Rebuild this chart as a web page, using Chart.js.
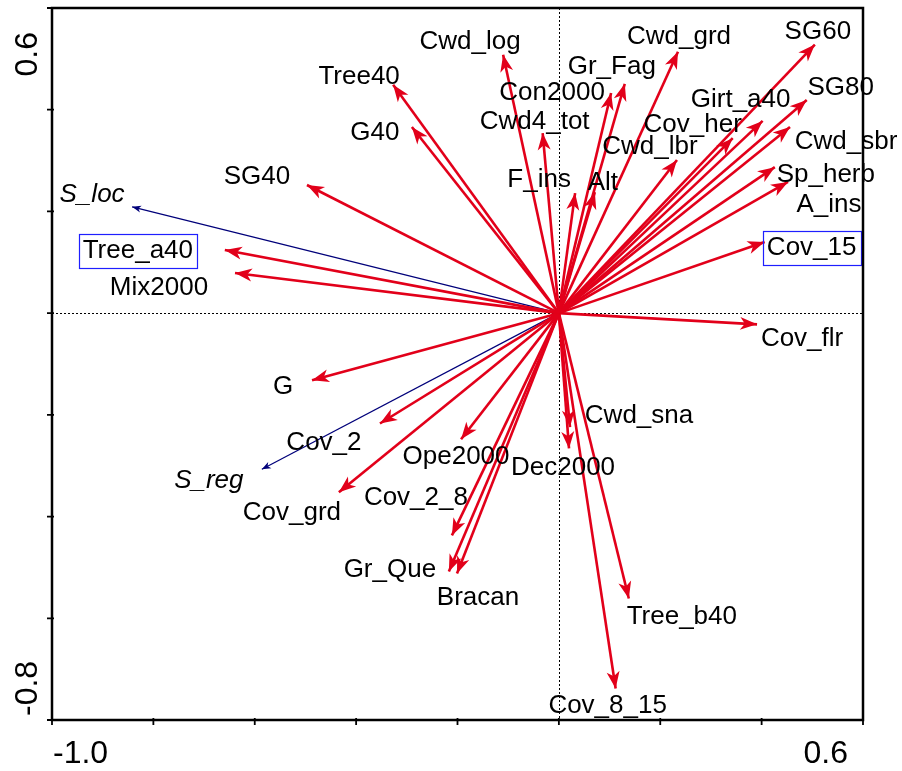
<!DOCTYPE html>
<html>
<head>
<meta charset="utf-8">
<title>Ordination biplot</title>
<script src="https://cdn.jsdelivr.net/npm/chart.js@4.4.1/dist/chart.umd.min.js"></script>
<style>
  html, body { margin: 0; padding: 0; background: #fff; }
  canvas { display: block; }
</style>
</head>
<body>
<canvas id="biplot" width="902" height="771"></canvas>
<script>
// environmental variables (red arrows): scores on axis 1 and axis 2
const variables = [
  "Cwd_log", "Tree40", "G40", "Cwd4_tot", "Con2000", "Gr_Fag", "Cwd_grd",
  "Cwd_lbr", "Cov_her", "Girt_a40", "SG60", "SG80", "Cwd_sbr", "Sp_herb",
  "A_ins", "Cov_15", "F_ins", "Alt", "SG40", "Tree_a40", "Mix2000", "Cov_flr",
  "G", "Cov_2", "Cov_grd", "Ope2000", "Cov_2_8", "Gr_Que", "Bracan",
  "Cwd_sna", "Dec2000", "Tree_b40", "Cov_8_15"
];
const axis1 = [
  -0.110, -0.327, -0.290, -0.032, 0.103, 0.130, 0.235,
  0.233, 0.343, 0.402, 0.505, 0.489, 0.456, 0.426,
  0.452, 0.406, 0.032, 0.071, -0.497, -0.659, -0.639, 0.391,
  -0.487, -0.353, -0.434, -0.193, -0.211, -0.217, -0.201,
  0.022, 0.020, 0.138, 0.112
];
const axis2 = [
  0.508, 0.449, 0.366, 0.354, 0.433, 0.451, 0.514,
  0.301, 0.344, 0.378, 0.528, 0.419, 0.366, 0.287,
  0.258, 0.140, 0.236, 0.238, 0.252, 0.124, 0.079, -0.022,
  -0.132, -0.217, -0.352, -0.248, -0.437, -0.508, -0.512,
  -0.224, -0.266, -0.561, -0.738
];

// response variables (thin blue arrows)
const responses = ["S_loc", "S_reg"];
const respAxis1 = [-0.842, -0.586];
const respAxis2 = [0.209, -0.307];

// axis ranges and tick values
const xRange = [-1.0, 0.6];
const yRange = [-0.8, 0.6];
const xTicks = [-1.0, -0.8, -0.6, -0.4, -0.2, 0.0, 0.2, 0.4, 0.6];
const yTicks = [-0.8, -0.6, -0.4, -0.2, 0.0, 0.2, 0.4, 0.6];
const boxed = ["Tree_a40", "Cov_15"];

// label placement relative to the arrow tip, in pixels
const labelOffset = {
  Cwd_log: [-33, -13], Tree40: [-34, -8], G40: [-37, 6], Cwd4_tot: [-8, -11],
  Con2000: [-59, 0], Gr_Fag: [-13, -17], Cwd_grd: [1, -15], Cwd_lbr: [-27, -13],
  Cov_her: [-40, -13], Girt_a40: [-22, -21], SG60: [3, -13], SG80: [34, -12],
  Cwd_sbr: [56, 15], Sp_herb: [51, 8], A_ins: [41, 23], Cov_15: [47, 6],
  F_ins: [-36, -13], Alt: [8, -9], SG40: [-50, -8], Tree_a40: [-87, 1],
  Mix2000: [-76, 15], Cov_flr: [45, 14], G: [-29, 7], Cov_2: [-56, 19],
  Cov_grd: [-47, 21], Ope2000: [-5, 18], Cov_2_8: [-36, -38], Gr_Que: [-59, -2],
  Bracan: [21, 24], Cwd_sna: [69, -11], Dec2000: [-6, 19], Tree_b40: [53, 18],
  Cov_8_15: [-8, 17], S_loc: [-40, -12], S_reg: [-53, 11]
};

const RED = "#e2001a";
const NAVY = "#00007a";
const BOX = "#1f1fff";
const FONT = "'Liberation Sans', Arial, sans-serif";

const datasets = [];
variables.forEach((name, i) => {
  datasets.push({
    label: name,
    data: [{ x: 0, y: 0 }, { x: axis1[i], y: axis2[i] }],
    showLine: true,
    borderColor: RED,
    borderWidth: 2.6,
    pointRadius: 0,
    kind: "env"
  });
});
responses.forEach((name, i) => {
  datasets.push({
    label: name,
    data: [{ x: 0, y: 0 }, { x: respAxis1[i], y: respAxis2[i] }],
    showLine: true,
    borderColor: NAVY,
    borderWidth: 1.2,
    pointRadius: 0,
    kind: "resp"
  });
});

function arrowHead(ctx, x0, y0, x1, y1, len, half, color) {
  const a = Math.atan2(y1 - y0, x1 - x0);
  const c = Math.cos(a), s = Math.sin(a);
  const bx = x1 - len * c, by = y1 - len * s;
  const nx = x1 - len * 0.72 * c, ny = y1 - len * 0.72 * s;
  ctx.beginPath();
  ctx.moveTo(x1, y1);
  ctx.lineTo(bx - half * s, by + half * c);
  ctx.lineTo(nx, ny);
  ctx.lineTo(bx + half * s, by - half * c);
  ctx.closePath();
  ctx.fillStyle = color;
  ctx.fill();
}

const biplotPlugin = {
  id: "biplot",
  beforeDraw(chart) {
    const ctx = chart.ctx;
    ctx.save();
    ctx.fillStyle = "#fff";
    ctx.fillRect(0, 0, chart.width, chart.height);
    ctx.restore();
  },
  beforeDatasetsDraw(chart) {
    const { ctx, chartArea: a, scales } = chart;
    const x0 = Math.round(scales.x.getPixelForValue(0)) + 0.5;
    const y0 = Math.round(scales.y.getPixelForValue(0)) + 0.5;
    ctx.save();
    ctx.strokeStyle = "#000";
    ctx.lineWidth = 1;
    ctx.setLineDash([2, 2]);
    ctx.beginPath();
    ctx.moveTo(x0, a.top);
    ctx.lineTo(x0, a.bottom);
    ctx.moveTo(a.left, y0);
    ctx.lineTo(a.right, y0);
    ctx.stroke();
    ctx.restore();
  },
  afterDatasetsDraw(chart) {
    const { ctx, scales } = chart;
    const ox = scales.x.getPixelForValue(0);
    const oy = scales.y.getPixelForValue(0);
    ctx.save();
    chart.data.datasets.forEach(ds => {
      const tip = ds.data[1];
      const tx = scales.x.getPixelForValue(tip.x);
      const ty = scales.y.getPixelForValue(tip.y);
      if (ds.kind === "env") {
        arrowHead(ctx, ox, oy, tx, ty, 17, 6.5, RED);
      } else {
        arrowHead(ctx, ox, oy, tx, ty, 9, 3.5, NAVY);
      }
    });

    ctx.textAlign = "center";
    ctx.textBaseline = "middle";
    const boxes = [];
    chart.data.datasets.forEach(ds => {
      const tip = ds.data[1];
      const off = labelOffset[ds.label] || [0, 0];
      const lx = scales.x.getPixelForValue(tip.x) + off[0];
      const ly = scales.y.getPixelForValue(tip.y) + off[1];
      ctx.font = (ds.kind === "resp" ? "italic " : "") + "26px " + FONT;
      ctx.fillStyle = "#000";
      ctx.fillText(ds.label, lx, ly);
      if (boxed.includes(ds.label)) {
        boxes.push([lx, ly, ctx.measureText(ds.label).width]);
      }
    });

    // framed labels
    ctx.strokeStyle = BOX;
    ctx.lineWidth = 1.2;
    boxes.forEach(([lx, ly, w]) => {
      ctx.strokeRect(Math.round(lx - w / 2 - 4) + 0.5, Math.round(ly - 17) + 0.5,
        Math.round(w + 8), 34);
    });
    ctx.restore();
  },
  afterDraw(chart) {
    const { ctx, chartArea: a, scales } = chart;
    ctx.save();
    ctx.strokeStyle = "#000";
    ctx.lineWidth = 2.5;
    ctx.strokeRect(a.left, a.top, a.right - a.left, a.bottom - a.top);

    ctx.lineWidth = 1.8;
    ctx.beginPath();
    xTicks.forEach(v => {
      const px = scales.x.getPixelForValue(v);
      ctx.moveTo(px, a.bottom - 2);
      ctx.lineTo(px, a.bottom + 5);
    });
    yTicks.forEach(v => {
      const py = scales.y.getPixelForValue(v);
      ctx.moveTo(a.left - 5, py);
      ctx.lineTo(a.left + 2, py);
    });
    ctx.stroke();

    // only the end values are labelled, pulled inside the axis ends
    ctx.fillStyle = "#000";
    ctx.font = "32px " + FONT;
    ctx.textBaseline = "middle";
    ctx.textAlign = "left";
    ctx.fillText(xTicks[0].toFixed(1), scales.x.getPixelForValue(xRange[0]) + 1, a.bottom + 34);
    ctx.textAlign = "right";
    ctx.fillText(xTicks[xTicks.length - 1].toFixed(1), scales.x.getPixelForValue(xRange[1]) - 15, a.bottom + 34);

    ctx.save();
    ctx.translate(28, scales.y.getPixelForValue(yRange[1]) + 24);
    ctx.rotate(-Math.PI / 2);
    ctx.textAlign = "right";
    ctx.fillText(yTicks[yTicks.length - 1].toFixed(1), 0, 0);
    ctx.restore();

    ctx.save();
    ctx.translate(28, scales.y.getPixelForValue(yRange[0]) - 4);
    ctx.rotate(-Math.PI / 2);
    ctx.textAlign = "left";
    ctx.fillText(yTicks[0].toFixed(1), 0, 0);
    ctx.restore();
    ctx.restore();
  }
};

new Chart(document.getElementById("biplot"), {
  type: "scatter",
  data: { datasets },
  options: {
    responsive: false,
    animation: false,
    devicePixelRatio: 1,
    layout: { padding: { left: 52, right: 39, top: 8, bottom: 51 } },
    scales: {
      x: { type: "linear", min: xRange[0], max: xRange[1], display: false },
      y: { type: "linear", min: yRange[0], max: yRange[1], display: false }
    },
    plugins: {
      legend: { display: false },
      tooltip: { enabled: false }
    },
    elements: { line: { borderCapStyle: "butt" } }
  },
  plugins: [biplotPlugin]
});
</script>
</body>
</html>
